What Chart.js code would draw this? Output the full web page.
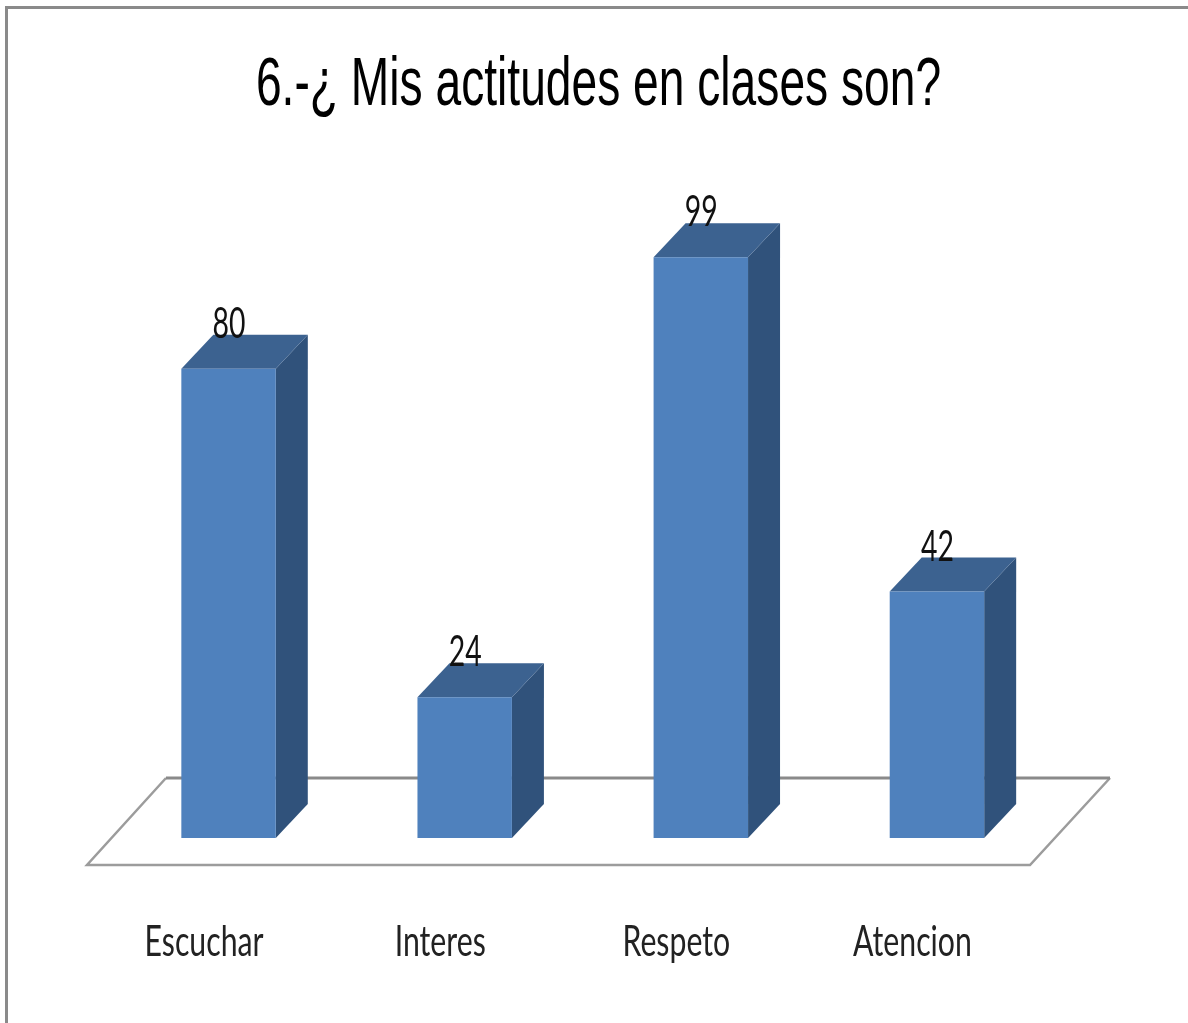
<!DOCTYPE html>
<html>
<head>
<meta charset="utf-8">
<title>Mis actitudes en clases</title>
<script src="https://cdn.jsdelivr.net/npm/chart.js"></script>
<style>
  html, body { margin: 0; padding: 0; background: #fff; overflow: hidden; }
  /* the reference is a blown up bitmap, a bit of blur gets the same soft edges */
  canvas { display: block; filter: blur(0.7px); }
</style>
</head>
<body>
<canvas id="myChart" width="1188" height="1023"></canvas>
<script>
const chartTitle = '6.-¿ Mis actitudes en clases son?';
const categories = ['Escuchar', 'Interes', 'Respeto', 'Atencion'];
const values = [80, 24, 99, 42];

// the picture is squeezed sideways, so text gets drawn with a horizontal scale
function stretchText(ctx, text, x, y, font, xScale, color) {
  ctx.save();
  ctx.translate(x, y);
  ctx.scale(xScale, 1);
  ctx.font = font;
  ctx.fillStyle = color;
  ctx.textAlign = 'center';
  ctx.textBaseline = 'alphabetic';
  ctx.fillText(text, 0, 0);
  ctx.restore();
}

function face(ctx, points, color) {
  ctx.beginPath();
  points.forEach((p, i) => (i ? ctx.lineTo(p[0], p[1]) : ctx.moveTo(p[0], p[1])));
  ctx.closePath();
  ctx.fillStyle = color;
  ctx.fill();
}

const bars3d = {
  id: 'bars3d',
  beforeDatasetsDraw(chart) {
    const ctx = chart.ctx;
    const area = chart.chartArea;
    const dx = 32, dy = 34;

    // outer frame, only top and left show
    ctx.fillStyle = '#8a8a8a';
    ctx.fillRect(5, 6, 1183, 3);
    ctx.fillRect(5, 6, 3, 1017);

    // floor
    const base = area.bottom;
    ctx.strokeStyle = '#9c9c9c';
    ctx.lineWidth = 2.5;
    ctx.beginPath();
    ctx.moveTo(166, base - 60);
    ctx.lineTo(87, base + 27);
    ctx.lineTo(1030, base + 27);
    ctx.lineTo(1110, base - 60);
    ctx.stroke();
    ctx.strokeStyle = '#8a8a8a';
    ctx.lineWidth = 3;
    ctx.beginPath();
    ctx.moveTo(166, base - 60);
    ctx.lineTo(1110, base - 60);
    ctx.stroke();

    chart.getDatasetMeta(0).data.forEach((bar) => {
      const left = bar.x - bar.width / 2;
      const right = bar.x + bar.width / 2;
      face(ctx, [[right, bar.y], [right + dx, bar.y - dy], [right + dx, bar.base - dy], [right, bar.base]], '#30527b');
      face(ctx, [[left, bar.y], [left + dx, bar.y - dy], [right + dx, bar.y - dy], [right, bar.y]], '#3c6290');
    });
  },
  afterDatasetsDraw(chart) {
    const ctx = chart.ctx;
    const xScale = chart.scales.x;
    const title = chart.options.plugins.title.text;
    stretchText(ctx, title, 598.5, 105, '68px "Liberation Sans"', 0.679, '#000');
    chart.getDatasetMeta(0).data.forEach((bar, i) => {
      stretchText(ctx, String(values[i]), bar.x + 0.5, bar.y - 31, '43px Lato', 0.66, '#111');
      stretchText(ctx, xScale.getLabelForValue(i), xScale.getPixelForValue(i) - 24.5, 956, '42px Lato', 0.72, '#222');
    });
  }
};

new Chart(document.getElementById('myChart').getContext('2d'), {
  type: 'bar',
  data: {
    labels: categories,
    datasets: [{
      data: values,
      backgroundColor: '#4f81bd',
      borderWidth: 0,
      barPercentage: 0.8,
      categoryPercentage: 0.5
    }]
  },
  options: {
    responsive: false,
    animation: false,
    layout: { padding: { left: 110.5, right: 133, top: 134, bottom: 185 } },
    plugins: {
      legend: { display: false },
      tooltip: { enabled: false },
      title: { display: false, text: chartTitle }
    },
    scales: {
      x: { display: false },
      y: { display: false, min: 0, max: 120 }
    }
  },
  plugins: [bars3d]
});
</script>
</body>
</html>
